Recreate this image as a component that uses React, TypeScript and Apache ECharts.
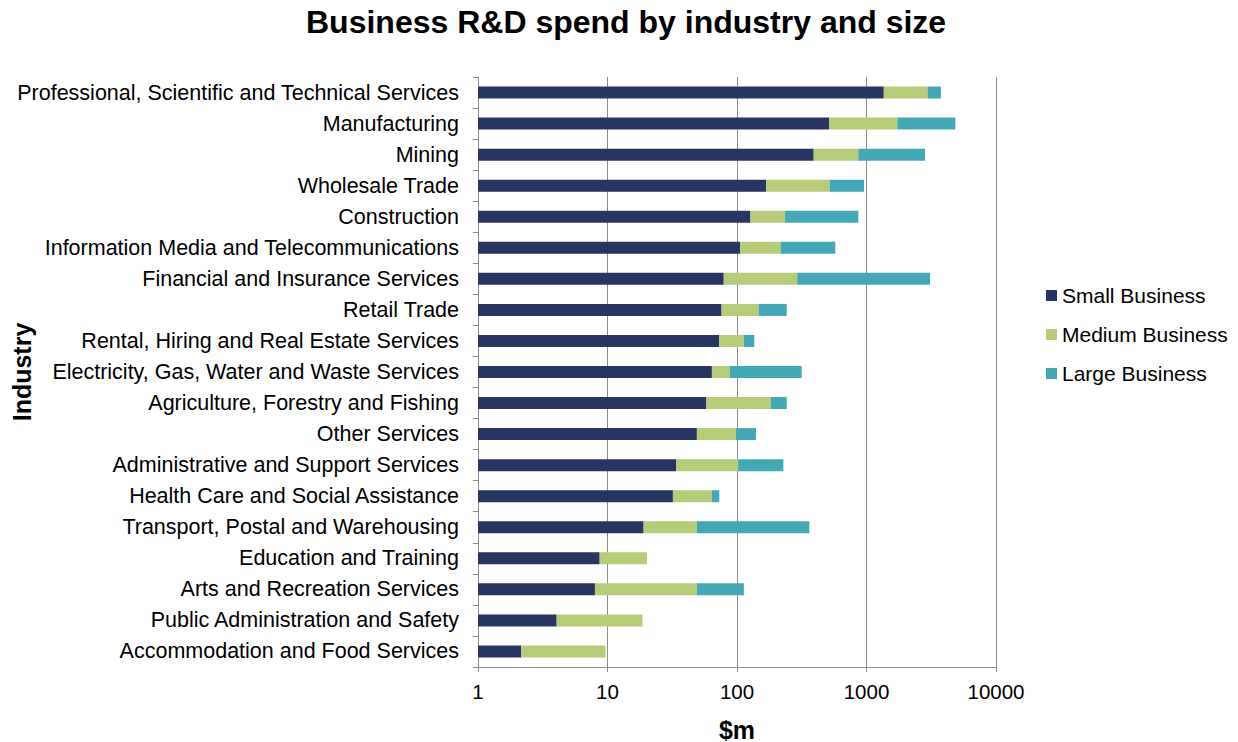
import React, { useEffect, useRef } from "react";
import * as echarts from "echarts";

const categories = [
  "Professional, Scientific and Technical Services",
  "Manufacturing",
  "Mining",
  "Wholesale Trade",
  "Construction",
  "Information Media and Telecommunications",
  "Financial and Insurance Services",
  "Retail Trade",
  "Rental, Hiring and Real Estate Services",
  "Electricity, Gas, Water and Waste Services",
  "Agriculture, Forestry and Fishing",
  "Other Services",
  "Administrative and Support Services",
  "Health Care and Social Assistance",
  "Transport, Postal and Warehousing",
  "Education and Training",
  "Arts and Recreation Services",
  "Public Administration and Safety",
  "Accommodation and Food Services",
];

const smallBusiness = [1360, 516, 391, 168, 127, 106, 79, 76, 73, 64, 58, 49, 34, 32, 19, 8.7, 8.0, 4.05, 2.16];
const mediumBusiness = [1600, 1214, 474, 352, 108, 111, 213, 71, 40, 24, 124, 49, 68, 32, 30, 11.5, 41, 14.6, 7.5];
const largeBusiness: (number | null)[] = [790, 3123, 1965, 437, 630, 357, 2800, 95, 23, 228, 60, 42, 126, 9, 313, null, 64, null, null];

const seriesNames = ["Small Business", "Medium Business", "Large Business"];
const colors = ["#283562", "#b7cc78", "#42a8b6"];
const FONT = "'Liberation Sans', Arial, sans-serif";

export default function App() {
  const ref = useRef<HTMLDivElement>(null);
  useEffect(() => {
    if (!ref.current) return;
    const chart = echarts.init(ref.current, undefined, { renderer: "svg" });
    const data = [smallBusiness, mediumBusiness, largeBusiness];
    chart.setOption({
      animation: false,
      backgroundColor: "#ffffff",
      textStyle: { fontFamily: FONT },
      title: {
        text: "Business R&D spend by industry and size",
        left: 306,
        top: 6,
        padding: 0,
        textStyle: { fontFamily: FONT, fontSize: 32, fontWeight: "bold", color: "#000" },
      },
      legend: {
        orient: "vertical",
        left: 1046,
        top: 285,
        padding: 0,
        itemWidth: 11,
        itemHeight: 11,
        itemGap: 18,
        icon: "rect",
        data: seriesNames,
        textStyle: { fontFamily: FONT, fontSize: 21, color: "#000" },
      },
      graphic: [
        {
          type: "text",
          x: 22,
          y: 372,
          rotation: Math.PI / 2,
          style: {
            text: "Industry",
            fontFamily: FONT,
            fontSize: 25,
            fontWeight: "bold",
            fill: "#000",
            align: "center",
            verticalAlign: "middle",
          },
        },
      ],
      grid: { left: 478, right: 242, top: 77, bottom: 75, containLabel: false, outerBoundsMode: "none" },
      xAxis: {
        type: "log",
        logBase: 10,
        min: 1,
        max: 10000,
        name: "$m",
        nameLocation: "middle",
        nameGap: 50,
        nameTextStyle: { fontFamily: FONT, fontSize: 25, fontWeight: "bold", color: "#000" },
        axisLine: { show: true, lineStyle: { color: "#8c8c8c", width: 1 } },
        axisTick: { show: true, length: 5, lineStyle: { color: "#8c8c8c" } },
        minorTick: { show: false },
        axisLabel: {
          fontFamily: FONT,
          fontSize: 20.5,
          color: "#000",
          margin: 14,
          formatter: (v: number) => String(Math.round(v)),
        },
        splitLine: { show: true, lineStyle: { color: "#8c8c8c", width: 1 } },
      },
      yAxis: {
        type: "category",
        data: categories,
        inverse: true,
        axisLine: { show: true, lineStyle: { color: "#8c8c8c", width: 1 } },
        axisTick: { show: true, length: 5, lineStyle: { color: "#8c8c8c" } },
        axisLabel: { fontFamily: FONT, fontSize: 21.5, color: "#000", margin: 19 },
        splitLine: { show: false },
      },
      series: seriesNames.map((name, i) => ({
        name,
        type: "bar",
        stack: "total",
        barWidth: 12,
        data: data[i],
        itemStyle: { color: colors[i] },
      })),
    });
    return () => chart.dispose();
  }, []);
  return (
    <div
      ref={ref}
      style={{ position: "fixed", left: 0, top: 0, width: 1238, height: 742, background: "#fff" }}
    />
  );
}
